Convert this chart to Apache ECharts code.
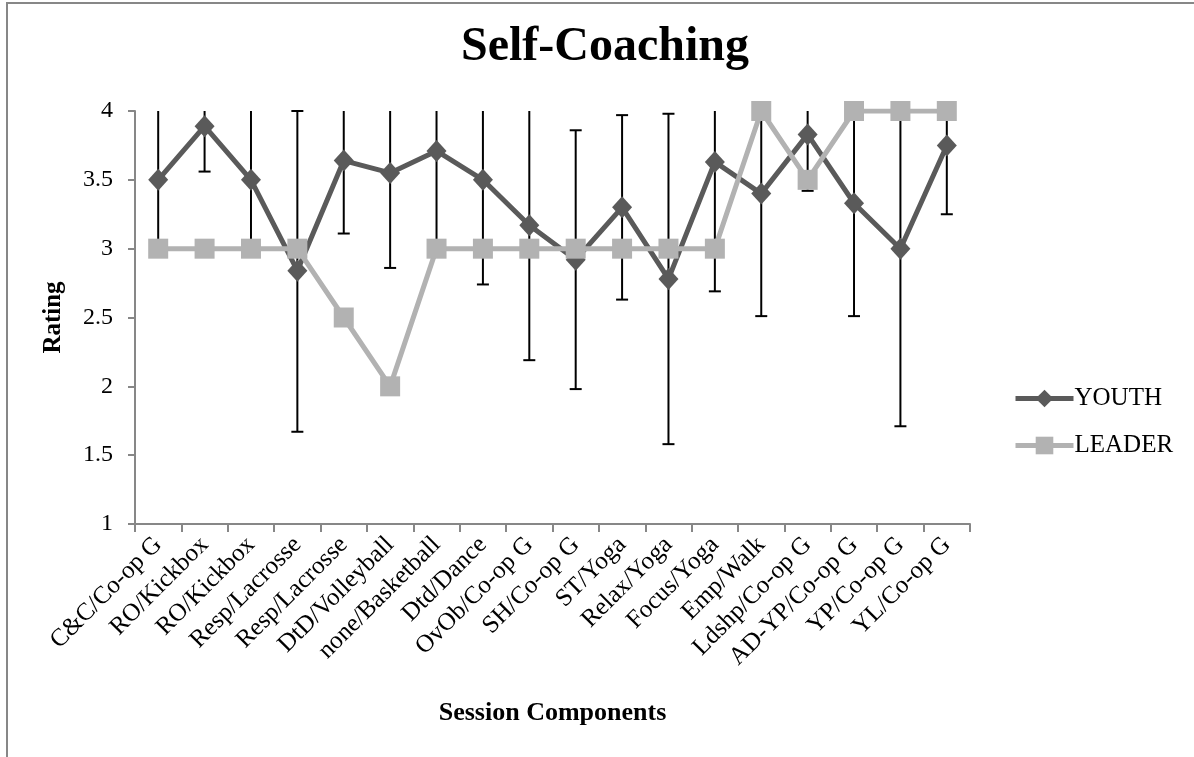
<!DOCTYPE html>
<html>
<head>
<meta charset="utf-8">
<script src="https://cdn.jsdelivr.net/npm/echarts@6/dist/echarts.min.js"></script>
<style>
    html, body {margin: 0; padding: 0; background: #fff; overflow: hidden;}
    #frame {position: absolute; left: 6px; top: 2px; width: 1300px; height: 900px; border-left: 2px solid #878787; border-top: 2px solid #878787;}
    #chart {position: absolute; left: 0; top: 0; width: 1194px; height: 757px;}
</style>
</head>
<body>
<div id="frame"></div>
<div id="chart"></div>
<script>
const categories = [
    'C&C/Co-op G', 'RO/Kickbox', 'RO/Kickbox', 'Resp/Lacrosse', 'Resp/Lacrosse',
    'DtD/Volleyball', 'none/Basketball', 'Dtd/Dance', 'OvOb/Co-op G', 'SH/Co-op G',
    'ST/Yoga', 'Relax/Yoga', 'Focus/Yoga', 'Emp/Walk', 'Ldshp/Co-op G',
    'AD-YP/Co-op G', 'YP/Co-op G', 'YL/Co-op G',
]
const youth = [3.5, 3.89, 3.5, 2.84, 3.64, 3.55, 3.71, 3.5, 3.17, 2.92, 3.3, 2.78, 3.63, 3.4, 3.83, 3.33, 3.0, 3.75]
const youth_err = [0.55, 0.33, 0.55, 1.17, 0.53, 0.69, 0.72, 0.76, 0.98, 0.94, 0.67, 1.2, 0.94, 0.89, 0.41, 0.82, 1.29, 0.5]
const leader = [3, 3, 3, 3, 2.5, 2, 3, 3, 3, 3, 3, 3, 3, 4, 3.5, 4, 4, 4]
const y_ticks = [1, 1.5, 2, 2.5, 3, 3.5, 4]

const y_min = y_ticks[0]
const y_max = y_ticks[y_ticks.length - 1]
const serif = "'Liberation Serif', 'Times New Roman', serif"
const axis_grey = '#878787'

// error bars: [index, low, high]
const err_data = youth.map((v, i) => [i, v - youth_err[i], v + youth_err[i]])

const render_err = (params, api) => {
    const i = api.value(0)
    const low = api.value(1)
    const high = api.value(2)
    const p_low = api.coord([i, Math.max(low, y_min)])
    const p_high = api.coord([i, Math.min(high, y_max)])
    const cap = 6
    const style = {stroke: '#000', lineWidth: 2}
    const children = [
        {type: 'line', shape: {x1: p_low[0], y1: p_low[1], x2: p_high[0], y2: p_high[1]}, style},
    ]
    if (low >= y_min) {
        children.push({type: 'line', shape: {x1: p_low[0] - cap, y1: p_low[1], x2: p_low[0] + cap, y2: p_low[1]}, style})
    }
    if (high <= y_max + 0.02) {
        children.push({type: 'line', shape: {x1: p_high[0] - cap, y1: p_high[1], x2: p_high[0] + cap, y2: p_high[1]}, style})
    }
    return {type: 'group', children}
}

const chart = echarts.init(document.getElementById('chart'))

chart.setOption({
    animation: false,
    textStyle: {fontFamily: serif},
    title: {
        text: 'Self-Coaching',
        left: 600,
        textAlign: 'center',
        top: 19,
        textStyle: {fontFamily: serif, fontSize: 48, fontWeight: 'bold', color: '#000'},
    },
    grid: {left: 135, right: 224, top: 111, bottom: 233},
    legend: {
        orient: 'vertical',
        left: 1008,
        top: 381,
        itemWidth: 58,
        itemHeight: 22,
        itemGap: 22,
        lineStyle: {width: 5},
        textStyle: {fontFamily: serif, fontSize: 25, color: '#000', padding: [0, 0, 0, -4]},
        data: ['YOUTH', 'LEADER'],
    },
    xAxis: {
        type: 'category',
        data: categories,
        boundaryGap: true,
        name: 'Session Components',
        nameLocation: 'middle',
        nameGap: 176,
        nameTextStyle: {fontFamily: serif, fontSize: 26, fontWeight: 'bold', color: '#000'},
        axisLine: {lineStyle: {color: axis_grey, width: 2}},
        axisTick: {show: true, length: 8, lineStyle: {color: axis_grey, width: 2}},
        axisLabel: {rotate: 45, interval: 0, margin: 17, fontFamily: serif, fontSize: 25, color: '#000'},
        splitLine: {show: false},
    },
    yAxis: {
        type: 'value',
        min: y_min,
        max: y_max,
        interval: 0.5,
        name: 'Rating',
        nameLocation: 'middle',
        nameGap: 69,
        nameTextStyle: {fontFamily: serif, fontSize: 25, fontWeight: 'bold', color: '#000'},
        axisLine: {show: true, lineStyle: {color: axis_grey, width: 2}},
        axisTick: {show: true, length: 7, lineStyle: {color: axis_grey, width: 2}},
        axisLabel: {margin: 22, fontFamily: serif, fontSize: 24, color: '#000'},
        splitLine: {show: false},
    },
    series: [
        {
            type: 'custom',
            name: 'err',
            data: err_data,
            renderItem: render_err,
            z: 1,
            silent: true,
        },
        {
            type: 'line',
            name: 'YOUTH',
            data: youth,
            symbol: 'diamond',
            symbolSize: [20, 22],
            lineStyle: {color: '#5a5a5a', width: 5},
            itemStyle: {color: '#5a5a5a'},
            z: 2,
        },
        {
            type: 'line',
            name: 'LEADER',
            data: leader,
            symbol: 'rect',
            symbolSize: 20,
            lineStyle: {color: '#b2b2b2', width: 5},
            itemStyle: {color: '#b2b2b2'},
            z: 3,
        },
    ],
})
</script>
</body>
</html>
